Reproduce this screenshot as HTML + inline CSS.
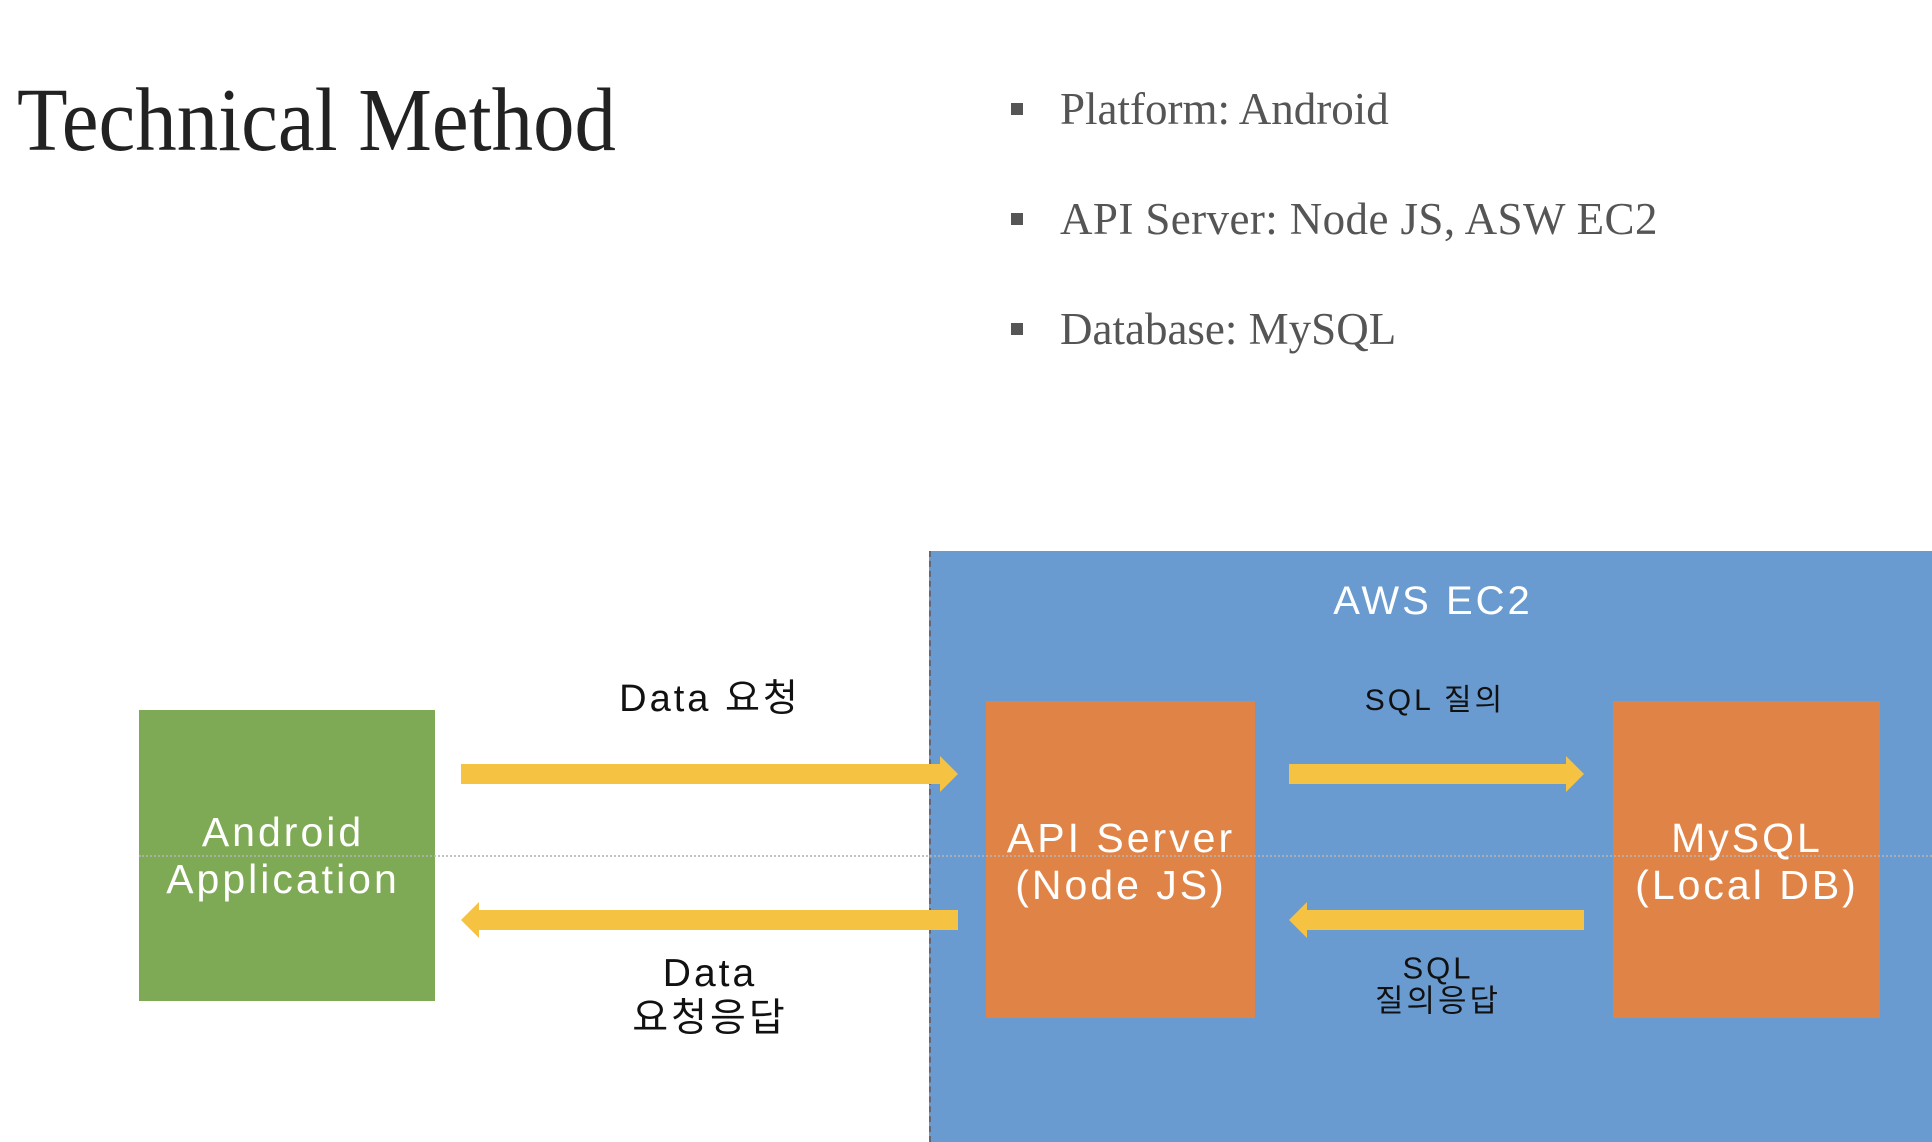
<!DOCTYPE html>
<html><head><meta charset="utf-8"><style>
body{margin:0;width:1932px;height:1142px;background:#fff;position:relative;overflow:hidden;font-family:"Liberation Sans","Noto Sans CJK KR",sans-serif}
.a{position:absolute}
.s{font-family:"Liberation Serif",serif}
.c{text-align:center;transform:translate(-50%,-50%);white-space:nowrap;line-height:1.15;letter-spacing:3px}
.sq{position:absolute;width:12px;height:12px;background:#555}
</style></head><body>
<div class="a s" style="left:17px;top:76px;font-size:90px;color:#222;line-height:1;transform:scaleX(0.92);transform-origin:0 0">Technical Method</div>
<div class="sq" style="left:1011px;top:103px"></div>
<div class="sq" style="left:1011px;top:213px"></div>
<div class="sq" style="left:1011px;top:323px"></div>
<div class="a s" style="left:1060px;top:87px;font-size:45px;color:#555;line-height:1">Platform: Android</div>
<div class="a s" style="left:1060px;top:197px;font-size:45px;color:#555;line-height:1;letter-spacing:0.4px">API Server: Node JS, ASW EC2</div>
<div class="a s" style="left:1060px;top:307px;font-size:45px;color:#555;line-height:1">Database: MySQL</div>

<div class="a" style="left:929px;top:551px;width:1003px;height:591px;background:#6a9bd0;border-left:2px dashed #667"></div>
<div class="a" style="left:139px;top:710px;width:296px;height:291px;background:#7faa55"></div>
<div class="a" style="left:986px;top:701px;width:269px;height:317px;background:#e08346"></div>
<div class="a" style="left:1613px;top:701px;width:267px;height:317px;background:#e08346"></div>
<div class="a" style="left:139px;top:855px;width:1793px;border-top:2px dotted rgba(180,180,180,0.8)"></div>

<svg class="a" style="left:0;top:0" width="1932" height="1142">
<g fill="#f5c242">
<polygon points="461,764 940,764 940,756 958,774 940,792 940,784 461,784"/>
<polygon points="958,910 479,910 479,902 461,920 479,938 479,930 958,930"/>
<polygon points="1289,764 1566,764 1566,756 1584,774 1566,792 1566,784 1289,784"/>
<polygon points="1584,910 1307,910 1307,902 1289,920 1307,938 1307,930 1584,930"/>
</g></svg>

<div class="a c" style="left:710px;top:700px;font-size:38px;color:#111">Data 요청</div>
<div class="a c" style="left:1435px;top:701px;font-size:30px;color:#111">SQL 질의</div>
<div class="a c" style="left:1433px;top:601px;font-size:40px;color:#fff">AWS EC2</div>
<div class="a c" style="left:710px;top:997px;font-size:39px;color:#111">Data<br>요청응답</div>
<div class="a c" style="left:1438px;top:985px;font-size:31px;color:#111;line-height:1.05">SQL<br>질의응답</div>
<div class="a c" style="left:283px;top:856px;font-size:41px;color:#fff">Android<br>Application</div>
<div class="a c" style="left:1121px;top:862px;font-size:41px;color:#fff">API Server<br>(Node JS)</div>
<div class="a c" style="left:1747px;top:862px;font-size:41px;color:#fff">MySQL<br>(Local DB)</div>
</body></html>
